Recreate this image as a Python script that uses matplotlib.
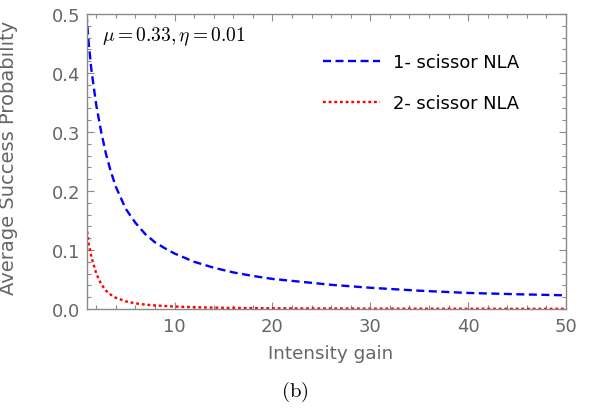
import matplotlib
matplotlib.use("Agg")
import matplotlib.pyplot as plt
from matplotlib.ticker import MultipleLocator

# Average success probability vs. intensity gain
gain_1 = [1.0, 1.2, 1.5, 2.0, 2.5, 3.0, 3.5, 4.0, 5.0, 6.0, 7.0, 8.0, 9.0,
          10.0, 12.0, 14.0, 16.0, 18.0, 20.0, 23.0, 26.0, 30.0, 35.0, 40.0,
          45.0, 50.0]
prob_1 = [0.500, 0.455, 0.405, 0.345, 0.300, 0.262, 0.232, 0.207, 0.170,
          0.146, 0.127, 0.113, 0.103, 0.094, 0.080, 0.070, 0.062, 0.056,
          0.051, 0.046, 0.041, 0.036, 0.031, 0.0272, 0.0250, 0.0232]

gain_2 = [1.0, 1.2, 1.5, 2.0, 2.5, 3.0, 3.5, 4.0, 5.0, 6.0, 7.0, 8.0, 10.0,
          12.0, 15.0, 20.0, 30.0, 40.0, 50.0]
prob_2 = [0.141, 0.113, 0.088, 0.060, 0.042, 0.031, 0.024, 0.019, 0.013,
          0.0095, 0.0075, 0.006, 0.0042, 0.003, 0.002, 0.0012, 0.0006,
          0.0004, 0.0003]

labels = ["1- scissor NLA", "2- scissor NLA"]
xticks = [10, 20, 30, 40, 50]
yticks = [0.0, 0.1, 0.2, 0.3, 0.4, 0.5]

plt.rcParams['font.family'] = ['DejaVu Sans']
plt.rcParams['mathtext.fontset'] = 'cm'

fig = plt.figure(figsize=(5.89, 4.10), dpi=100)
ax = fig.add_axes([0.1469, 0.2439, 0.8141, 0.7195])

frame = '#8a8a8a'
text_grey = '#666666'

ax.plot(gain_1, prob_1, color='#0000ff', lw=1.7, linestyle=(0, (3.4, 1.9)),
        label=labels[0])
ax.plot(gain_2, prob_2, color='#ff0000', lw=1.7, linestyle=(0, (1.2, 1.2)),
        label=labels[1])

ax.set_xlim(1, 50)
ax.set_ylim(0, 0.5)
ax.set_xticks(xticks)
ax.set_yticks(yticks)
ax.set_yticklabels([f"{v:.1f}" for v in yticks])
ax.xaxis.set_minor_locator(MultipleLocator(2))
ax.yaxis.set_minor_locator(MultipleLocator(0.02))

for s in ax.spines.values():
    s.set_color(frame)
    s.set_linewidth(1.0)
ax.tick_params(which='both', direction='in', top=True, right=True,
               color=frame, labelcolor=text_grey, labelsize=13, width=0.8)
ax.tick_params(which='major', length=5)
ax.tick_params(which='minor', length=3)
ax.tick_params(axis='x', which='both', pad=5.5, labeltop=False)
ax.tick_params(axis='y', which='both', pad=4.7, labelright=False)

ax.set_xlabel("Intensity gain", color=text_grey, fontsize=13.2)
ax.xaxis.set_label_coords(0.509, -0.118)
ax.set_ylabel("Average Success Probability", color=text_grey, fontsize=14)
ax.yaxis.set_label_coords(-0.142, 0.517)

ax.text(0.032, 0.925, r"$\mu = 0.33, \eta = 0.01$", transform=ax.transAxes,
        fontsize=14, color='black', va='center', ha='left')

leg = ax.legend(loc='upper left', bbox_to_anchor=(0.493, 0.868), frameon=False,
                fontsize=12.9, handlelength=3.2, labelspacing=1.3,
                handletextpad=0.73, borderpad=0, borderaxespad=0)

fig.text(0.501, 0.045, r"$\mathrm{(b)}$", fontsize=15,
         ha='center', va='center')

fig.savefig("out.png", dpi=100)
